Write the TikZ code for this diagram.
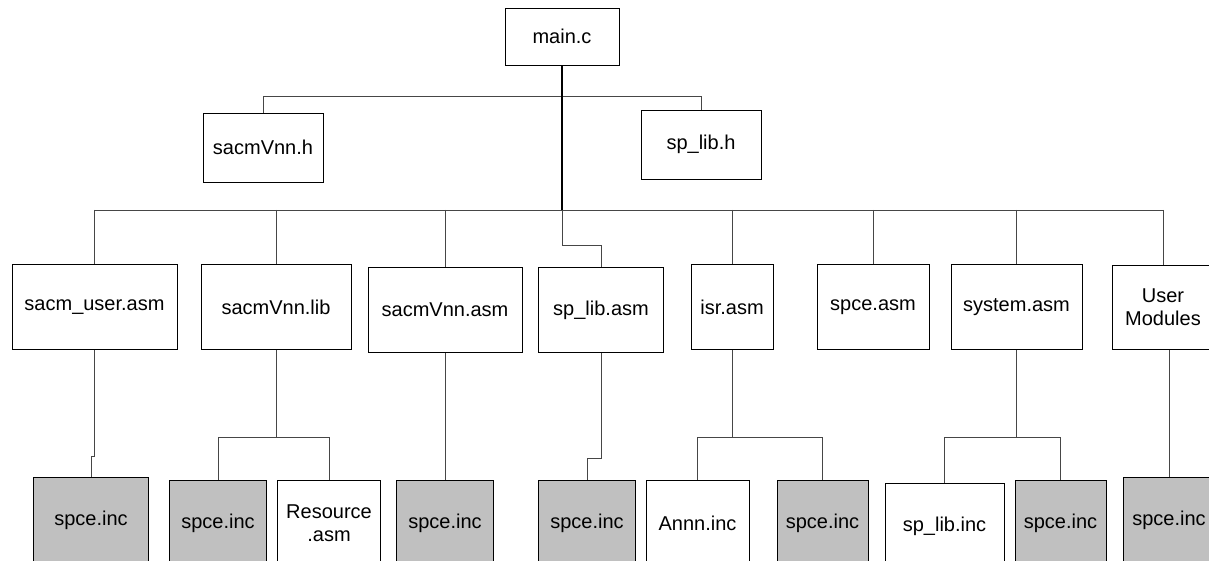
\documentclass[tikz,border=0pt]{standalone}
\usepackage{fontspec}
\setmainfont{Liberation Sans}
\usetikzlibrary{positioning}
\definecolor{incgray}{RGB}{192,192,192}
\definecolor{wiregray}{RGB}{70,70,70}

\begin{document}
\begin{tikzpicture}[
    x=1pt, y=-1pt,
    file/.style={draw=black, line width=0.9pt, fill=white, inner sep=0pt,
                 align=center, font=\fontsize{20}{23}\selectfont},
    module/.style={file, anchor=north, minimum height=85},
    inc/.style={file, anchor=north, minimum height=86},
    incg/.style={inc, fill=incgray},
    wire/.style={draw=wiregray, line width=0.9pt},
    trunk/.style={draw=black, line width=2pt}
]
    \useasboundingbox (0,0) rectangle (1209,561);

    % headers
    \node[file, minimum width=114, minimum height=57] (main) at (562,36.5) {main.c};
    \node[file, minimum width=120, minimum height=69] (sacmh) at (263,147.5) {sacmVnn.h};
    \node[file, minimum width=120, minimum height=69] (splibh) at (701,144.5) {sp\_lib.h};

    % modules
    \node[module, minimum width=165] (sacmuser) at (94.5,264) {sacm\_user.asm};
    \node[module, minimum width=150] (sacmlib) at (276,264) {sacmVnn.lib};
    \node[module, minimum width=154] (sacmasm) at (445,267) {sacmVnn.asm};
    \node[module, minimum width=125] (splibasm) at (601,267) {sp\_lib.asm};
    \node[module, minimum width=82] (isr) at (732,264) {isr.asm};
    \node[module, minimum width=112] (spceasm) at (873,264) {spce.asm};
    \node[module, minimum width=131] (system) at (1016.5,264) {system.asm};
    \node[module, minimum width=102, minimum height=84] (user) at (1163,265) {User\\Modules};

    % includes
    \node[incg, minimum width=114.5] (inc1) at (91,477) {spce.inc};
    \node[incg, minimum width=97.5] (inc2) at (218,480) {spce.inc};
    \node[inc, minimum width=102.5] (res) at (329,480) {Resource\\.asm};
    \node[incg, minimum width=97.5] (inc3) at (445,480) {spce.inc};
    \node[incg, minimum width=96.5] (inc4) at (587,480) {spce.inc};
    \node[inc, minimum width=103] (annn) at (697.5,480) {Annn.inc};
    \node[incg, minimum width=91] (inc5) at (822.5,480) {spce.inc};
    \node[inc, minimum width=119] (splibinc) at (944.5,483) {sp\_lib.inc};
    \node[incg, minimum width=91] (inc6) at (1060.5,480) {spce.inc};
    \node[incg, minimum width=92] (inc7) at (1169,477) {spce.inc};

    \coordinate (hbus) at (562,96);
    \coordinate (bus) at (562,210);

    % connectors
    \draw[wire] (sacmh.north) -- (sacmh.north |- hbus) -- (splibh.north |- hbus) -- (splibh.north);
    \draw[wire] (sacmuser.north |- bus) -- (user.north |- bus);
    \foreach \m in {sacmuser, sacmlib, sacmasm, isr, spceasm, system, user}
        \draw[wire] (\m.north |- bus) -- (\m.north);
    \draw[wire] (bus) -- ++(0,35) -| (splibasm.north);
    \draw[trunk] (main.south) -- (bus);

    \draw[wire] (sacmuser.south) -- ++(0,107) -| (inc1.north);
    \draw[wire] (sacmlib.south) -- ++(0,88) coordinate (fkA);
    \draw[wire] (inc2.north) |- (fkA) -| (res.north);
    \draw[wire] (sacmasm.south) -- (inc3.north);
    \draw[wire] (splibasm.south) -- ++(0,106) -| (inc4.north);
    \draw[wire] (isr.south) -- ++(0,88) coordinate (fkB);
    \draw[wire] (annn.north) |- (fkB) -| (inc5.north);
    \draw[wire] (system.south) -- ++(0,88) coordinate (fkC);
    \draw[wire] (splibinc.north) |- (fkC) -| (inc6.north);
    \draw[wire] (user.south -| inc7.north) -- (inc7.north);
\end{tikzpicture}
\end{document}
